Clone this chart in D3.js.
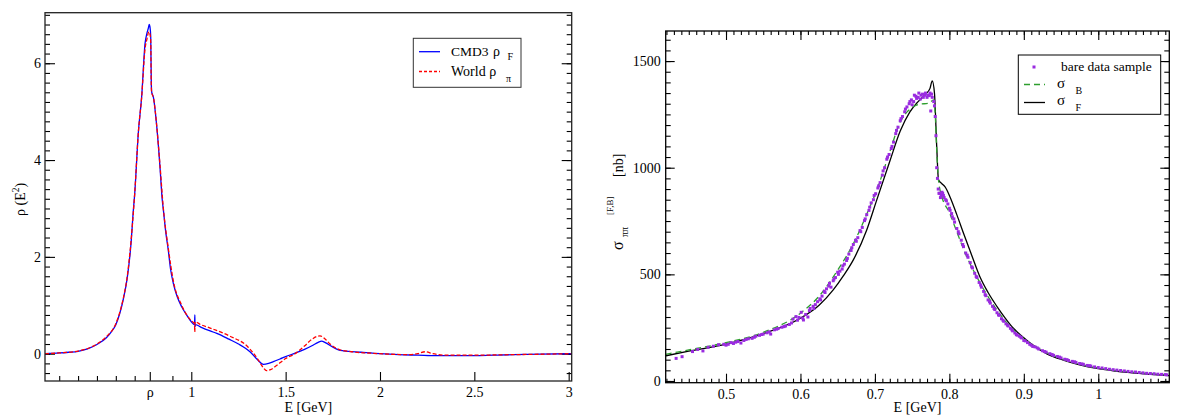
<!DOCTYPE html>
<html>
<head>
<meta charset="utf-8">
<script src="https://cdnjs.cloudflare.com/ajax/libs/d3/7.8.5/d3.min.js"></script>
<style>
  body { margin: 0; background: #fff; }
</style>
</head>
<body>
<div id="chart"></div>
<script>
// ---- left panel data: spectral function rho(E^2), [E in GeV, value]
var cmd3Rho = [[0.225,0],[0.25,0.005],[0.3,0.015],[0.35,0.03],[0.4,0.05],[0.45,0.1],[0.5,0.19],[0.55,0.33],
  [0.58,0.47],[0.6,0.6],[0.62,0.82],[0.64,1.13],[0.66,1.55],[0.68,2.25],[0.693,2.97],[0.7,3.3],[0.719,4.55],
  [0.737,5.31],[0.755,6.41],[0.765,6.62],[0.772,6.72],[0.777,6.8],[0.781,6.75],[0.785,6.55],[0.788,5.6],
  [0.79,5.41],[0.799,5.3],[0.817,4.69],[0.834,3.86],[0.846,3.18],[0.852,2.97],[0.865,2.5],[0.878,2.14],
  [0.89,1.75],[0.905,1.45],[0.925,1.18],[0.949,0.97],[0.975,0.8],[1.0,0.66],[1.017,0.6],[1.019,0.8],
  [1.0195,0.56],[1.022,0.6],[1.05,0.55],[1.1,0.47],[1.135,0.42],[1.2,0.3],[1.25,0.2],[1.311,0.04],
  [1.35,-0.12],[1.382,-0.22],[1.41,-0.2],[1.435,-0.165],[1.47,-0.11],[1.5,-0.06],[1.55,0.01],[1.6,0.09],
  [1.647,0.18],[1.67,0.23],[1.691,0.26],[1.71,0.23],[1.744,0.15],[1.78,0.08],[1.805,0.06],[1.9,0.03],
  [2.0,0],[2.1,-0.02],[2.2,-0.03],[2.3,-0.04],[2.4,-0.04],[2.5,-0.04],[2.6,-0.03],[2.707,-0.02],
  [2.85,-0.01],[3.016,0]];

var worldRho = [[0.225,0],[0.3,0.015],[0.4,0.055],[0.5,0.2],[0.55,0.35],[0.6,0.62],[0.62,0.84],[0.64,1.15],
  [0.66,1.58],[0.68,2.3],[0.7,3.3],[0.72,4.6],[0.737,5.3],[0.755,6.3],[0.765,6.5],[0.775,6.65],[0.781,6.6],
  [0.785,6.45],[0.788,5.55],[0.79,5.4],[0.8,5.28],[0.817,4.7],[0.834,3.9],[0.852,3.0],[0.878,2.18],
  [0.905,1.5],[0.949,1.0],[1.0,0.68],[1.017,0.62],[1.0185,0.45],[1.02,0.66],[1.05,0.6],[1.1,0.53],
  [1.2,0.37],[1.3,0.14],[1.35,-0.1],[1.38,-0.28],[1.399,-0.35],[1.42,-0.33],[1.45,-0.25],[1.5,-0.1],
  [1.55,0.0],[1.6,0.16],[1.64,0.3],[1.682,0.37],[1.71,0.3],[1.735,0.2],[1.788,0.08],[1.85,0.04],
  [1.95,0.01],[2.05,-0.01],[2.15,-0.02],[2.2,0.0],[2.24,0.04],[2.28,0.0],[2.35,-0.03],[2.5,-0.03],
  [2.7,-0.02],[3.016,0]];

var leftXTicks = [0.78, 1, 1.5, 2, 2.5, 3];
var leftXLabels = ["ρ", "1", "1.5", "2", "2.5", "3"];
var leftXMinor = [0.3, 0.4, 0.5, 0.6, 0.7, 0.9];
var leftYTicks = [0, 2, 4, 6];
var leftYMinor = d3.range(-4, 71, 2).map(d => d / 10);

// ---- right panel data: cross section [E in GeV, nb]
var sigmaB = [[0.419,125],[0.45,146],[0.5,180],[0.55,228],[0.6,318],[0.625,398],[0.65,520],[0.672,650],
  [0.69,790],[0.703,900],[0.72,1075],[0.734,1215],[0.745,1268],[0.752,1287],[0.76,1298],[0.772,1302],
  [0.779,1318],[0.781,1250],[0.783,1083],[0.7854,943],[0.79,864],[0.8,790],[0.81,700],[0.82,610],
  [0.84,468],[0.86,352],[0.88,262],[0.9,198],[0.925,143],[0.95,105],[0.975,79],[1.0,60],[1.05,40],[1.095,28]];

var sigmaF = [[0.419,118],[0.45,140],[0.5,173],[0.55,222],[0.6,294],[0.625,355],[0.644,427],[0.658,495],
  [0.671,568],[0.689,708],[0.7025,849],[0.72,1030],[0.734,1172],[0.747,1262],[0.758,1310],[0.768,1345],
  [0.774,1372],[0.777,1407],[0.78,1349],[0.783,1100],[0.7854,943],[0.79,925],[0.794,911],[0.801,862],
  [0.81,780],[0.819,693],[0.83,590],[0.841,489],[0.852,415],[0.864,349],[0.875,295],[0.886,247],
  [0.9,203],[0.909,177],[0.931,127],[0.953,98],[0.975,76],[0.998,59],[1.02,48],[1.043,39],[1.07,31],[1.095,25]];

var bareData = [[0.433,106],[0.441,114],[0.455,138],[0.462,148],[0.469,141],[0.476,158],[0.483,163],
  [0.49,170],[0.497,172],[0.5,168],[0.503,172],[0.507,180],[0.51,176],[0.513,182],[0.516,185],[0.52,178],
  [0.524,190],[0.527,195],[0.53,198],[0.535,200],[0.538,205],[0.54,210],[0.545,214],[0.548,218],[0.55,220],
  [0.555,226],[0.558,230],[0.56,220],[0.565,240],[0.568,243],[0.57,246],[0.575,252],[0.578,255],[0.58,258],
  [0.585,265],[0.588,272],[0.59,290],[0.594,302],[0.596,285],[0.598,298],[0.601,322],[0.603,295],[0.604,286],
  [0.607,312],[0.61,300],[0.612,330],[0.613,340],[0.617,350],[0.618,340],[0.62,358],[0.623,372],[0.626,385],
  [0.627,380],[0.629,398],[0.632,420],[0.633,415],[0.635,432],[0.638,445],[0.639,458],[0.641,440],
  [0.644,470],[0.645,478],[0.647,485],[0.65,510],[0.651,500],[0.653,515],[0.656,525],[0.657,540],
  [0.659,548],[0.662,565],[0.663,575],[0.665,595],[0.668,612],[0.669,625],[0.671,640],[0.674,660],
  [0.675,655],[0.677,672],[0.68,705],[0.681,700],[0.683,720],[0.686,752],[0.687,760],[0.689,780],
  [0.692,800],[0.693,815],[0.695,835],[0.698,850],[0.699,870],[0.701,878],[0.704,905],[0.705,915],
  [0.707,930],[0.71,965],[0.711,985],[0.713,1000],[0.716,1040],[0.717,1050],[0.719,1062],[0.722,1090],
  [0.723,1100],[0.725,1120],[0.728,1160],[0.729,1175],[0.731,1190],[0.734,1220],[0.735,1230],[0.737,1240],
  [0.74,1262],[0.741,1275],[0.743,1285],[0.746,1300],[0.747,1310],[0.749,1318],[0.75,1295],[0.752,1310],
  [0.753,1340],[0.755,1335],[0.756,1325],[0.758,1330],[0.759,1350],[0.761,1322],[0.762,1340],[0.764,1345],
  [0.765,1330],[0.767,1340],[0.768,1350],[0.77,1330],[0.771,1340],[0.773,1338],[0.774,1350],[0.775,1266],
  [0.776,1345],[0.777,1330],[0.779,1310],[0.78,1290],[0.781,1240],[0.782,1150],[0.783,1000],[0.784,950],
  [0.785,900],[0.786,880],[0.787,880],[0.788,860],[0.789,870],[0.79,885],[0.791,880],[0.792,870],
  [0.793,860],[0.795,850],[0.796,845],[0.798,830],[0.8,810],[0.801,800],[0.803,785],[0.804,770],
  [0.806,760],[0.807,745],[0.81,715],[0.812,700],[0.813,690],[0.816,660],[0.818,640],[0.819,630],
  [0.822,600],[0.824,590],[0.825,580],[0.828,555],[0.83,535],[0.831,530],[0.834,505],[0.836,490],
  [0.837,485],[0.84,462],[0.842,450],[0.843,440],[0.846,420],[0.848,405],[0.849,400],[0.852,380],
  [0.854,372],[0.855,365],[0.858,350],[0.86,340],[0.861,335],[0.864,320],[0.866,310],[0.867,308],
  [0.87,292],[0.872,285],[0.873,280],[0.876,268],[0.878,262],[0.879,258],[0.882,247],[0.884,240],
  [0.885,235],[0.888,225],[0.89,218],[0.891,215],[0.894,210],[0.896,205],[0.897,202],[0.9,190],
  [0.902,188],[0.905,180],[0.908,172],[0.91,168],[0.912,162],[0.915,160],[0.918,155],[0.92,150],
  [0.925,142],[0.928,138],[0.93,135],[0.935,128],[0.938,124],[0.94,120],[0.945,115],[0.948,112],
  [0.95,108],[0.955,102],[0.958,100],[0.96,96],[0.965,92],[0.968,90],[0.97,87],[0.975,82],[0.978,80],
  [0.98,78],[0.985,73],[0.988,72],[0.99,70],[0.995,66],[1.0,63],[1.005,61],[1.01,58],[1.015,55],
  [1.02,53],[1.025,51],[1.03,49],[1.035,47],[1.04,45],[1.045,43],[1.05,42],[1.055,40],[1.06,38],
  [1.065,36],[1.07,35],[1.075,34],[1.08,32],[1.085,31],[1.09,30],[1.092,29]];

var rightXTicks = [0.5, 0.6, 0.7, 0.8, 0.9, 1];
var rightXMinor = d3.range(42, 110).map(d => d / 100);
var rightYTicks = [0, 500, 1000, 1500];
var rightYMinor = d3.range(0, 1601, 50);

var serif = "'Liberation Serif', Tinos, 'Times New Roman', 'DejaVu Serif', serif";

var svgWidth = 1178;
var svgHeight = 417;

var svg = d3.select("#chart")
  .append("svg")
  .attr("width", svgWidth)
  .attr("height", svgHeight)
  .attr("font-family", serif);

// plain text helper
function label(x, y, txt, size) {
  return svg.append("text")
    .attr("x", x).attr("y", y)
    .attr("font-family", serif)
    .attr("font-size", size)
    .attr("fill", "#000")
    .text(txt);
}

// draws a set of inward ticks on one side of a frame
function ticks(scale, orient, pos, values, size, labels, pad) {
  var axis;
  if (orient == "bottom") axis = d3.axisBottom(scale);
  if (orient == "top") axis = d3.axisTop(scale);
  if (orient == "left") axis = d3.axisLeft(scale);
  if (orient == "right") axis = d3.axisRight(scale);
  axis.tickValues(values).tickSize(-size).tickPadding(pad || 5);
  if (labels) axis.tickFormat(labels);
  else axis.tickFormat("");
  var tr = (orient == "bottom" || orient == "top") ? `translate(0, ${pos})` : `translate(${pos}, 0)`;
  var g = svg.append("g").attr("transform", tr).call(axis)
    .attr("font-family", serif).attr("font-size", 14);
  g.select(".domain").remove();
  g.selectAll("line").attr("stroke", "#000").attr("stroke-width", 1.1);
  g.selectAll("text").attr("fill", "#000");
  return g;
}

// ================= left panel =================
var L = { left: 45, right: 571.7, top: 12.7, bottom: 381 };
var xL = d3.scaleLinear().domain([0.2247, 3.016]).range([L.left, L.right]);
var yL = d3.scaleLinear().domain([-0.564, 7.044]).range([L.bottom, L.top]);

ticks(xL, "bottom", L.bottom, leftXTicks, 9, (d, i) => leftXLabels[i], 6);
ticks(xL, "bottom", L.bottom, leftXMinor, 5);
ticks(yL, "left", L.left, leftYTicks, 10, d => d, 4);
ticks(yL, "left", L.left, leftYMinor, 5);
ticks(yL, "right", L.right, leftYTicks, 10);
ticks(yL, "right", L.right, leftYMinor, 5);

var lineL = d3.line().x(d => xL(d[0])).y(d => yL(d[1])).curve(d3.curveMonotoneX);

svg.append("path").datum(cmd3Rho)
  .attr("d", lineL).attr("fill", "none")
  .attr("stroke", "#0000ff").attr("stroke-width", 1.3);

svg.append("path").datum(worldRho)
  .attr("d", lineL).attr("fill", "none")
  .attr("stroke", "#ff0000").attr("stroke-width", 1.3)
  .attr("stroke-dasharray", "4,2");

svg.append("rect")
  .attr("x", L.left).attr("y", L.top)
  .attr("width", L.right - L.left).attr("height", L.bottom - L.top)
  .attr("fill", "none").attr("stroke", "#222").attr("stroke-width", 1.3);

// axis titles
label((L.left + L.right) / 2, 412, "E [GeV]", 14).attr("text-anchor", "middle");

var yTitleL = svg.append("text")
  .attr("transform", "translate(25, 216) rotate(-90)")
  .attr("font-family", serif).attr("font-size", 14);
yTitleL.append("tspan").text("ρ (E");
yTitleL.append("tspan").attr("dy", -6).attr("font-size", 9.5).text("2");
yTitleL.append("tspan").attr("dy", 6).text(")");

// legend
svg.append("rect")
  .attr("x", 413.3).attr("y", 38.3).attr("width", 107.7).attr("height", 49)
  .attr("fill", "#fff").attr("stroke", "#333").attr("stroke-width", 1);
svg.append("line").attr("x1", 419).attr("x2", 440).attr("y1", 51.7).attr("y2", 51.7)
  .attr("stroke", "#0000ff").attr("stroke-width", 1.3);
svg.append("line").attr("x1", 419).attr("x2", 440).attr("y1", 71.5).attr("y2", 71.5)
  .attr("stroke", "#ff0000").attr("stroke-width", 1.3).attr("stroke-dasharray", "3,2");
label(451, 55.5, "CMD3", 13.5);
label(493, 55.5, "ρ", 14);
label(507.5, 60, "F", 10);
label(451, 75.5, "World ρ", 14);
label(506, 82, "π", 10);

// ================= right panel =================
var R = { left: 665.7, right: 1169.3, top: 31, bottom: 382.7 };
var xR = d3.scaleLinear().domain([0.419, 1.0954]).range([R.left, R.right]);
var yR = d3.scaleLinear().domain([-8, 1641]).range([R.bottom, R.top]);

ticks(xR, "bottom", R.bottom, rightXTicks, 9, d => d, 6);
ticks(xR, "bottom", R.bottom, rightXMinor, 4);
ticks(xR, "top", R.top, rightXTicks, 9);
ticks(xR, "top", R.top, rightXMinor, 4);
ticks(yR, "left", R.left, rightYTicks, 9, d => d, 5);
ticks(yR, "left", R.left, rightYMinor, 5);
ticks(yR, "right", R.right, rightYTicks, 9);
ticks(yR, "right", R.right, rightYMinor, 5);

var lineR = d3.line().x(d => xR(d[0])).y(d => yR(d[1])).curve(d3.curveMonotoneX);

svg.append("path").datum(sigmaF)
  .attr("d", lineR).attr("fill", "none")
  .attr("stroke", "#000").attr("stroke-width", 1.3);

svg.append("path").datum(sigmaB)
  .attr("d", lineR).attr("fill", "none")
  .attr("stroke", "#2e9e2e").attr("stroke-width", 1.3)
  .attr("stroke-dasharray", "6,4");

svg.append("g").selectAll("rect")
  .data(bareData)
  .enter()
  .append("rect")
  .attr("x", d => xR(d[0]) - 1.5)
  .attr("y", d => yR(d[1]) - 1.5)
  .attr("width", 3).attr("height", 3)
  .attr("fill", "#9a2be0");

svg.append("rect")
  .attr("x", R.left).attr("y", R.top)
  .attr("width", R.right - R.left).attr("height", R.bottom - R.top)
  .attr("fill", "none").attr("stroke", "#000").attr("stroke-width", 1.3);

label((R.left + R.right) / 2, 412, "E [GeV]", 14).attr("text-anchor", "middle");

// y title: sigma_pipi^[F,B] [nb]
var yTitleR = svg.append("g").attr("transform", "translate(623, 250) rotate(-90)")
  .attr("font-family", serif);
yTitleR.append("text").attr("x", 0).attr("y", 0).attr("font-size", 16).text("σ");
yTitleR.append("text").attr("x", 13).attr("y", 5).attr("font-size", 10).text("ππ");
yTitleR.append("text").attr("x", 35).attr("y", -10).attr("font-size", 9).text("[F,B]");
yTitleR.append("text").attr("x", 73).attr("y", 0).attr("font-size", 14).text("[nb]");

// legend
svg.append("rect")
  .attr("x", 1018.3).attr("y", 55).attr("width", 142.4).attr("height", 59.3)
  .attr("fill", "#fff").attr("stroke", "#000").attr("stroke-width", 1);
svg.append("rect").attr("x", 1032.5).attr("y", 65.5).attr("width", 3).attr("height", 3)
  .attr("fill", "#9a2be0");
label(1061, 71, "bare data sample", 13.5);
svg.append("line").attr("x1", 1024).attr("x2", 1045).attr("y1", 84.5).attr("y2", 84.5)
  .attr("stroke", "#2e9e2e").attr("stroke-width", 1.3).attr("stroke-dasharray", "6,4");
label(1057, 87.5, "σ", 15);
label(1075.5, 94, "B", 10);
svg.append("line").attr("x1", 1024).attr("x2", 1045).attr("y1", 102.5).attr("y2", 102.5)
  .attr("stroke", "#000").attr("stroke-width", 1.3);
label(1057, 104.5, "σ", 15);
label(1075.5, 111, "F", 10);
</script>
</body>
</html>
